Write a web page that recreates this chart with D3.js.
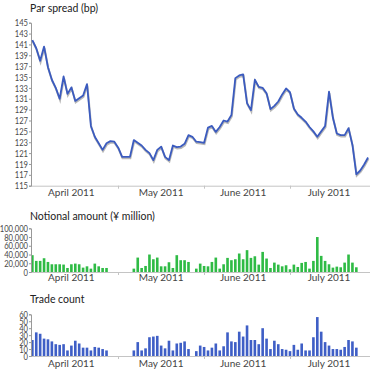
<!DOCTYPE html>
<html>
<head>
<meta charset="utf-8">
<script src="https://cdn.jsdelivr.net/npm/d3@7"></script>
<style>
  html, body { margin: 0; padding: 0; background: #fff; }
  svg { display: block; font-family: Lato, "Noto Sans", sans-serif; }
  .title { font-size: 10.5px; fill: #222; }
  .tick text { font-family: Lato, sans-serif; font-size: 9.8px; fill: #4a4a4a; }
  .month { font-size: 10px; fill: #444; }
</style>
</head>
<body>
<svg id="chart" width="370" height="370"></svg>
<script>
// trading days shown on the x axis (weekdays, 31 Mar - 29 Jul 2011)
var firstDay = new Date(2011, 2, 31);
var lastDay = new Date(2011, 6, 30);

// par spread (bp), one value per trading day
var spread = [141.8, 140.3, 138.0, 140.6, 136.8, 134.5, 133.0, 131.0, 135.1, 131.9,
  133.1, 130.6, 131.1, 131.6, 133.7, 126.0, 124.0, 122.8, 121.6, 122.8,
  123.2, 123.1, 122.0, 120.3, 120.3, 120.3, 123.4, 122.9, 122.4, 121.6,
  121.0, 119.7, 121.6, 122.2, 120.3, 119.7, 122.4, 122.1, 122.2, 122.7,
  124.3, 124.0, 123.1, 123.0, 122.9, 125.7, 126.0, 124.9, 125.8, 127.0,
  126.8, 128.0, 134.8, 135.3, 135.5, 130.2, 128.9, 134.5, 133.2, 133.0,
  132.0, 129.1, 129.7, 130.5, 131.8, 132.9, 132.2, 129.2, 128.1, 127.5,
  126.8, 125.8, 125.0, 124.0, 125.0, 126.0, 132.3, 127.5, 124.6, 124.3,
  124.3, 125.6, 122.5, 117.1, 117.8, 118.9, 120.2];

// notional amount (¥ million); null = no trades
var notional = [38500, 25400, 25400, 31500, 23000, 17700, 17700, 17700, 17000, 9200,
  17700, 19200, 17700, 10000, 13000, 7700, 19200, 13000, 9200, 9200,
  null, null, null, null, null, null, 7700, 33000, 9200, 13800,
  40000, 29200, 33000, 13000, 13000, 22300, 9200, 38500, 27000, 27000,
  23000, null, 7700, 19200, 13800, 13000, 23000, 33000, 7700, 17700,
  32300, 27000, 29200, 42300, 29200, 50000, 32300, 36000, 16900, 46000,
  30800, 9200, 21500, 16900, 13000, 15400, 6200, 16900, 11500, 20800,
  23000, 7700, 25400, 80000, 36900, 25400, 17700, 10000, 12300, 10800,
  21500, 40000, 21500, 10800, null, null, null];

// trade count
var trades = [23, 34, 32, 25, 24, 21, 17, 16, 17, 8,
  15, 22, 18, 12, 12, 8, 13, 12, 10, 8,
  null, null, null, null, null, null, 8, 20, 8, 11,
  27, 28, 29, 15, 11, 22, 8, 18, 19, 21,
  10, null, 7, 15, 13, 8, 12, 18, 8, 14,
  34, 21, 20, 35, 28, 44, 23, 23, 17, 40,
  25, 10, 22, 17, 10, 9, 7, 16, 9, 18,
  8, 8, 27, 56, 35, 20, 15, 10, 10, 9,
  13, 23, 21, 12, null, null, null];

var spreadTicks = [115, 117, 119, 121, 123, 125, 127, 129, 131, 133, 135, 137, 139, 141, 143, 145];
var notionalTicks = [0, 20000, 40000, 60000, 80000, 100000];
var tradeTicks = [0, 10, 20, 30, 40, 50, 60];

var monthLabels = ["April 2011", "May 2011", "June 2011", "July 2011"];
var monthLabelDays = ["2011-04-14", "2011-05-17", "2011-06-15", "2011-07-15"];
var monthTickDays = ["2011-05-02", "2011-06-01", "2011-07-01"];

var lineColor = "#3b5bbf";
var barBlue = "#3f5fc6";
var barGreen = "#2fbb45";

var fmtDay = d3.timeFormat("%Y-%m-%d");
var days = d3.timeDay.range(firstDay, lastDay)
  .filter(function (d) { return d.getDay() !== 0 && d.getDay() !== 6; })
  .map(fmtDay);

var svg = d3.select("#chart");
var left = 31, right = 370;
var squeeze = 0.78;   // tick labels are set in a narrow face in the original

var x = d3.scaleBand().domain(days).range([30.4, right]).paddingInner(0.33).paddingOuter(0.165);
function cx(d) { return x(d) + x.bandwidth() / 2; }

/*====================================
  shared pieces
======================================*/

function yAxis(scale, ticks, fmt) {
  var g = svg.append("g")
    .attr("transform", "translate(" + left + ",0)")
    .call(d3.axisLeft(scale).tickValues(ticks).tickFormat(fmt).tickSizeOuter(0).tickSize(2).tickPadding(1));
  g.select(".domain").attr("stroke", "#999");
  g.selectAll(".tick line").attr("stroke", "#999");
  g.selectAll(".tick text")
    .attr("x", -3 / squeeze)
    .attr("transform", "scale(" + squeeze + ",1)");
  return g;
}

function xAxis(y0) {
  svg.append("line")
    .attr("x1", left).attr("x2", right)
    .attr("y1", y0 + 0.5).attr("y2", y0 + 0.5)
    .attr("stroke", "#c4c4c4");
  svg.append("g").selectAll("line")
    .data(monthTickDays)
    .enter().append("line")
    .attr("x1", function (d) { return Math.round(cx(d)) + 0.5; })
    .attr("x2", function (d) { return Math.round(cx(d)) + 0.5; })
    .attr("y1", y0).attr("y2", y0 + 3)
    .attr("stroke", "#c4c4c4");
}

function monthText(yBase) {
  svg.append("g").selectAll("text")
    .data(monthLabels)
    .enter().append("text")
    .attr("class", "month")
    .attr("x", function (d, i) { return cx(monthLabelDays[i]); })
    .attr("y", yBase)
    .attr("text-anchor", "middle")
    .text(function (d) { return d; });
}

function title(txt, yBase) {
  svg.append("text").attr("class", "title").attr("x", 30).attr("y", yBase).text(txt);
}

/*====================================
  Par spread line
======================================*/

var ySpread = d3.scaleLinear().domain([115, 145]).range([185.7, 22.7]);
title("Par spread (bp)", 11.5);
xAxis(185.7);
yAxis(ySpread, spreadTicks, d3.format("d"));
monthText(196);

var line = d3.line()
  .x(function (d, i) { return cx(days[i]); })
  .y(function (d) { return ySpread(d); });

svg.append("path")
  .datum(spread)
  .attr("d", line)
  .attr("transform", "translate(0.4,1.4)")
  .attr("fill", "none")
  .attr("stroke", "#b8b8b8")
  .attr("stroke-width", 2);

svg.append("path")
  .datum(spread)
  .attr("d", line)
  .attr("fill", "none")
  .attr("stroke", lineColor)
  .attr("stroke-width", 1.8)
  .attr("stroke-linejoin", "round");

/*====================================
  Bar panels
======================================*/

function bars(values, yScale, color) {
  svg.append("g").selectAll("rect")
    .data(values.map(function (v, i) { return { day: days[i], v: v }; })
      .filter(function (d) { return d.v != null; }))
    .enter().append("rect")
    .attr("x", function (d) { return x(d.day); })
    .attr("width", x.bandwidth())
    .attr("y", function (d) { return yScale(d.v); })
    .attr("height", function (d) { return yScale(0) - yScale(d.v); })
    .attr("fill", color);
}

var yNotional = d3.scaleLinear().domain([0, 100000]).range([272, 228.3]);
title("Notional amount (\u00a5 million)", 219.5);
bars(notional, yNotional, barGreen);
xAxis(272);
yAxis(yNotional, notionalTicks, d3.format(","));
monthText(280.5);

var yTrades = d3.scaleLinear().domain([0, 60]).range([356, 314.3]);
title("Trade count", 303);
bars(trades, yTrades, barBlue);
xAxis(356);
yAxis(yTrades, tradeTicks, d3.format("d"));
monthText(366.5);
</script>
</body>
</html>
